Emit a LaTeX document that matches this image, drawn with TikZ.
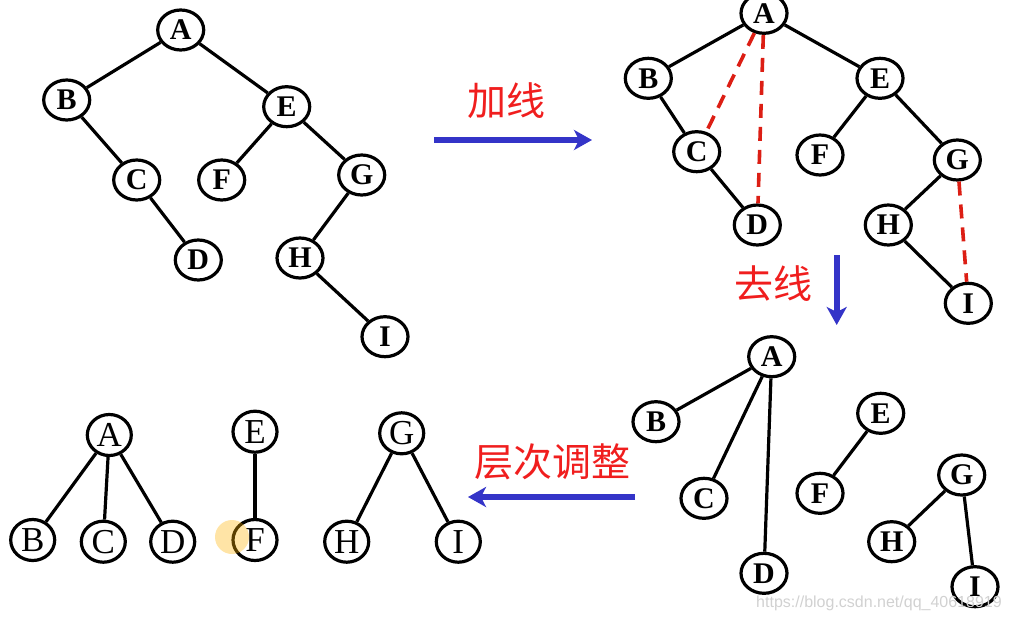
\documentclass[tikz,border=0pt]{standalone}
\usepackage{fontspec}
\setmainfont{Liberation Serif}
\newfontfamily\cjk{Noto Sans CJK SC}
\newfontfamily\wmfont{Liberation Sans}
\usetikzlibrary{shapes.geometric,arrows.meta}
\definecolor{arrblue}{RGB}{52,52,200}
\definecolor{lblred}{RGB}{240,30,30}
\definecolor{dashred}{RGB}{220,30,20}
\tikzset{
  bn/.style={ellipse,draw=black,line width=3.2pt,fill=white,minimum width=46pt,minimum height=40pt,inner sep=0pt,font=\fontsize{30}{30}\selectfont\bfseries},
  rn/.style={ellipse,draw=black,line width=3.2pt,fill=white,minimum width=44pt,minimum height=41pt,inner sep=0pt,font=\fontsize{35}{35}\selectfont},
  tedge/.style={line width=3.2pt,black},
  redash/.style={line width=3.6pt,dashred,dash pattern=on 14pt off 9pt},
  bluearrow/.style={line width=6pt,arrblue,-{Stealth[length=18pt,width=20pt,inset=5pt]}},
  redlabel/.style={text=lblred,font=\cjk\fontsize{39}{39}\selectfont,inner sep=0pt}
}
\begin{document}
\begin{tikzpicture}[x=1pt,y=-1pt]
\useasboundingbox (0,0) rectangle (1011,621);
% ---------- tree 1 ----------
\node[bn] (a1) at (180.7,30) {A};
\node[bn] (b1) at (66.7,100) {B};
\node[bn] (e1) at (286.7,106.7) {E};
\node[bn] (c1) at (136.7,180) {C};
\node[bn] (f1) at (221.7,180) {F};
\node[bn] (g1) at (361.7,175) {G};
\node[bn] (d1) at (198.3,260) {D};
\node[bn] (h1) at (300,258) {H};
\node[bn] (i1) at (385,336.7) {I};
\draw[tedge] (a1) -- (b1);
\draw[tedge] (a1) -- (e1);
\draw[tedge] (b1) -- (c1);
\draw[tedge] (c1) -- (d1);
\draw[tedge] (e1) -- (f1);
\draw[tedge] (e1) -- (g1);
\draw[tedge] (g1) -- (h1);
\draw[tedge] (h1) -- (i1);
% ---------- tree 2 ----------
\node[bn] (a2) at (764,13.3) {A};
\node[bn] (b2) at (648.3,78.3) {B};
\node[bn] (e2) at (880,78.3) {E};
\node[bn] (c2) at (696.7,151.7) {C};
\node[bn] (f2) at (820,155) {F};
\node[bn] (g2) at (957.3,160) {G};
\node[bn] (d2) at (757.3,225) {D};
\node[bn] (h2) at (888.3,225) {H};
\node[bn] (i2) at (968.3,303.3) {I};
\draw[tedge] (a2) -- (b2);
\draw[tedge] (a2) -- (e2);
\draw[tedge] (b2) -- (c2);
\draw[tedge] (c2) -- (d2);
\draw[tedge] (e2) -- (f2);
\draw[tedge] (e2) -- (g2);
\draw[tedge] (g2) -- (h2);
\draw[tedge] (h2) -- (i2);
\draw[redash] (a2) -- (c2);
\draw[redash] (a2) -- (d2);
\draw[redash] (g2) -- (i2);
% ---------- tree 3 ----------
\node[bn] (a3) at (771.7,356.7) {A};
\node[bn] (b3) at (656,421.7) {B};
\node[bn] (c3) at (704,498.3) {C};
\node[bn] (d3) at (764,573.3) {D};
\node[bn] (e3) at (880.7,413.3) {E};
\node[bn] (f3) at (820,493.3) {F};
\node[bn] (g3) at (961.7,475) {G};
\node[bn] (h3) at (891.7,541.7) {H};
\node[bn] (i3) at (975,586.7) {I};
\draw[tedge] (a3) -- (b3);
\draw[tedge] (a3) -- (c3);
\draw[tedge] (a3) -- (d3);
\draw[tedge] (e3) -- (f3);
\draw[tedge] (g3) -- (h3);
\draw[tedge] (g3) -- (i3);
% ---------- tree 4 ----------
\node[rn] (a4) at (109.3,435) {A};
\node[rn] (b4) at (32.7,540) {B};
\node[rn] (c4) at (103.3,541.7) {C};
\node[rn] (d4) at (172.7,541.7) {D};
\node[rn] (e4) at (255,431.7) {E};
\node[rn] (f4) at (255,540) {F};
\node[rn] (g4) at (401.7,433.3) {G};
\node[rn] (h4) at (346.7,541.7) {H};
\node[rn] (i4) at (458.3,541.7) {I};
\draw[tedge] (a4) -- (b4);
\draw[tedge] (a4) -- (c4);
\draw[tedge] (a4) -- (d4);
\draw[tedge] (e4) -- (f4);
\draw[tedge] (g4) -- (h4);
\draw[tedge] (g4) -- (i4);
\fill[orange!60!yellow,opacity=0.35] (232,537) circle (17);
% ---------- arrows and labels ----------
\coordinate (ar1s) at (434,140);
\coordinate (ar1e) at (592,140);
\draw[bluearrow] (ar1s) -- (ar1e);
\node[redlabel] (l1) at (506,101) {加线};
\coordinate (ar2s) at (836.7,255);
\coordinate (ar2e) at (836.7,325);
\draw[bluearrow] (ar2s) -- (ar2e);
\node[redlabel] (l2) at (773,284) {去线};
\coordinate (ar3s) at (635,497);
\coordinate (ar3e) at (468,497);
\draw[bluearrow] (ar3s) -- (ar3e);
\node[redlabel] (l3) at (552,461.7) {层次调整};
\node[text=black!18,font=\wmfont\fontsize{16}{16}\selectfont,inner sep=0pt] (wm) at (879,603) {https://blog.csdn.net/qq\_40618919};
\end{tikzpicture}
\end{document}
